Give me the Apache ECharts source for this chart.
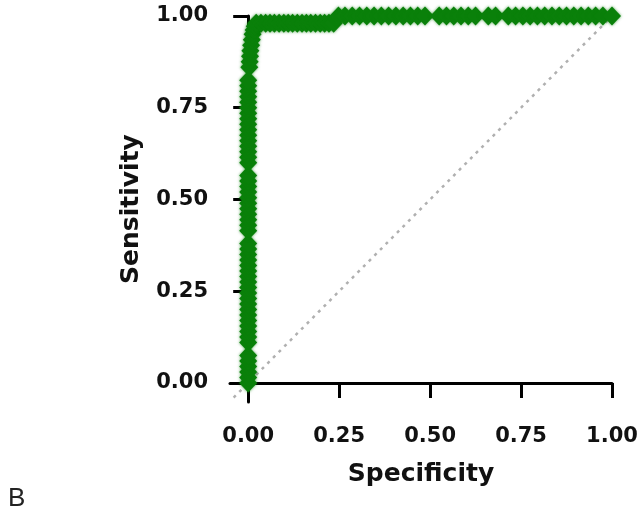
<!DOCTYPE html>
<html>
<head>
<meta charset="utf-8">
<script src="https://cdn.jsdelivr.net/npm/echarts@6/dist/echarts.min.js"></script>
<style>
html,body{margin:0;padding:0;background:#fff;}
#chart{width:642px;height:512px;}
</style>
</head>
<body>
<div id="chart"></div>
<script>
// ROC curve values
const rocSpecificity = [
  0,0,0,0,0,0,
  0,0,0,0,0,0,0,0,0,0,0,0,0,0,0,0,0,0,0,
  0,0,0,0,0,0,0,0,0,0,0,
  0,0,0,0,0,0,0,0,0,0,0,0,0,0,0,0,
  0.003,0.004,0.005,0.006,0.008,0.010,0.012,0.015,0.018,
  0.022,0.035,0.048,0.060,0.072,0.085,0.098,0.110,0.122,0.135,0.148,0.160,0.172,0.185,0.198,0.210,0.222,0.235,
  0.248,0.266,0.286,0.306,0.326,0.346,0.366,0.386,0.406,0.426,0.446,0.466,0.486,
  0.525,0.545,0.565,0.585,0.605,0.625,
  0.660,0.680,
  0.715,0.735,0.755,0.775,0.795,0.815,0.835,0.855,0.875,0.895,0.915,0.935,0.955,0.975,1.000
];
const rocSensitivity = [
  0.000,0.015,0.030,0.045,0.060,0.075,
  0.110,0.125,0.140,0.155,0.170,0.185,0.200,0.215,0.230,0.245,0.260,0.275,0.290,0.305,0.320,0.335,0.350,0.365,0.380,
  0.415,0.430,0.445,0.460,0.475,0.490,0.505,0.520,0.535,0.550,0.565,
  0.600,0.615,0.630,0.645,0.660,0.675,0.690,0.705,0.720,0.735,0.750,0.765,0.780,0.795,0.810,0.825,
  0.860,0.875,0.890,0.905,0.920,0.935,0.950,0.962,0.972,
  0.980,0.980,0.980,0.980,0.980,0.980,0.980,0.980,0.980,0.980,0.980,0.980,0.980,0.980,0.980,0.980,0.980,0.980,
  1,1,1,1,1,1,1,1,1,1,1,1,1,
  1,1,1,1,1,1,
  1,1,
  1,1,1,1,1,1,1,1,1,1,1,1,1,1,1
];
const refX = [-0.04, 1];
const refY = [-0.04, 1];
const tickValues = [0, 0.25, 0.5, 0.75, 1];
const xName = 'Specificity';
const yName = 'Sensitivity';
const panelLetter = 'B';

const rocData = rocSpecificity.map((x, i) => [x, rocSensitivity[i]]);
const refData = refX.map((x, i) => [x, refY[i]]);

const labelFont = {fontFamily: 'DejaVu Sans', fontWeight: 'bold', fontSize: 21, color: '#111'};
const nameFont = {fontFamily: 'DejaVu Sans', fontWeight: 'bold', fontSize: 25, color: '#111'};

function axis(extra) {
  return Object.assign({
    type: 'value',
    max: 1,
    splitLine: {show: false},
    axisLine: {show: true, lineStyle: {color: '#000', width: 3}},
    axisTick: {show: true, customValues: tickValues, length: 15, lineStyle: {color: '#000', width: 3}},
    nameLocation: 'middle',
    nameTextStyle: nameFont
  }, extra);
}

const chart = echarts.init(document.getElementById('chart'), null, {renderer: 'canvas'});
chart.setOption({
  animation: false,
  backgroundColor: '#fff',
  grid: {left: 230, right: 30, top: 16, bottom: 110, containLabel: false},
  xAxis: axis({
    min: -0.05,
    name: xName,
    nameGap: 60,
    axisLabel: Object.assign({customValues: tickValues, margin: 24, formatter: v => v.toFixed(2)}, labelFont)
  }),
  yAxis: axis({
    min: -0.052,
    name: yName,
    nameGap: 86,
    axisLabel: Object.assign({customValues: tickValues, margin: 22, formatter: v => v.toFixed(2)}, labelFont)
  }),
  graphic: [{
    type: 'text', left: 8, top: 486,
    style: {text: panelLetter, font: '26px "Liberation Sans"', fill: '#222'}
  }],
  series: [
    {
      type: 'line', data: refData, symbol: 'none', silent: true, clip: false,
      lineStyle: {color: '#b0b0b0', width: 2.5, type: [3, 5]}
    },
    {
      type: 'line', data: rocData, clip: false,
      symbol: 'diamond', symbolSize: [18, 19], showSymbol: true,
      itemStyle: {color: '#0a800a', shadowBlur: 3, shadowColor: 'rgba(10,128,10,0.7)'},
      lineStyle: {color: '#0a800a', width: 4}
    }
  ]
});
</script>
</body>
</html>
